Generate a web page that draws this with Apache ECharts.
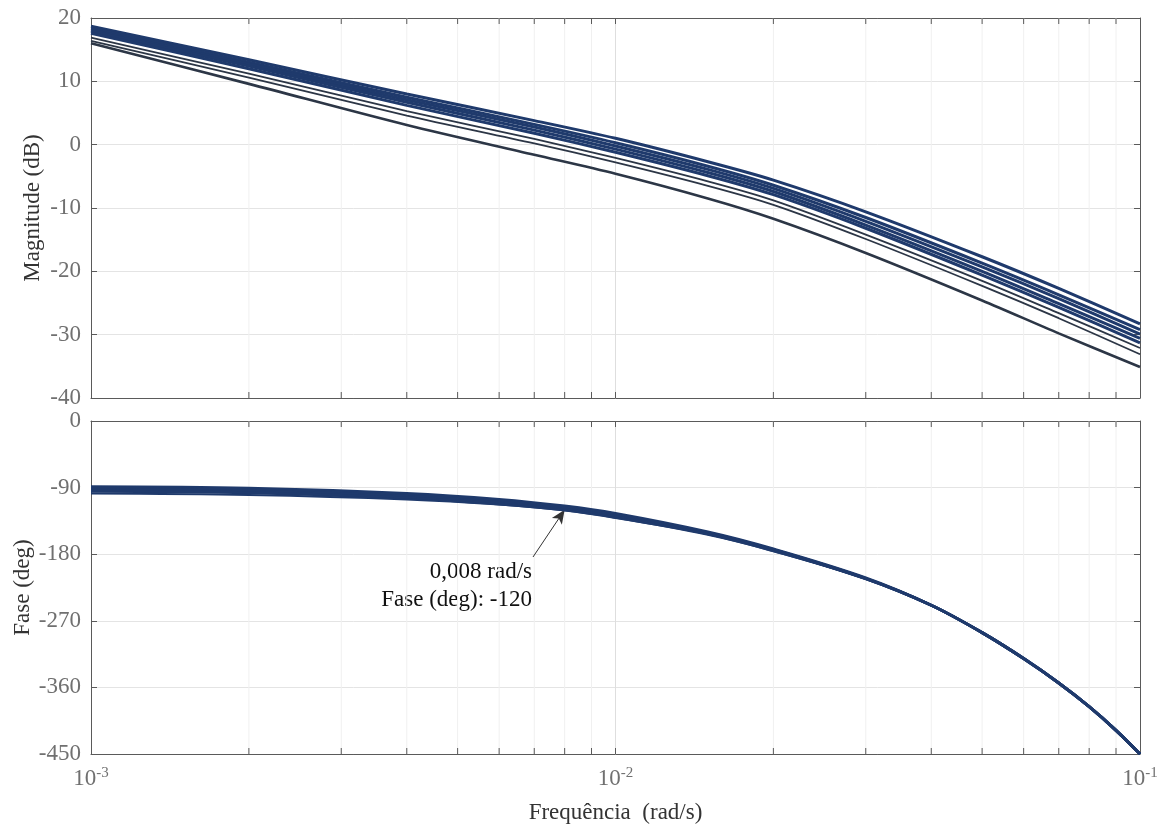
<!DOCTYPE html>
<html>
<head>
<meta charset="utf-8">
<script src="https://cdn.jsdelivr.net/npm/echarts@6/dist/echarts.min.js"></script>
<style>html,body{margin:0;padding:0;background:#fff}#c{width:1162px;height:828px}</style>
</head>
<body>
<div id="c"></div>
<script>
// ---- data ----
const freqMag = [0.001, 0.002, 0.004, 0.007, 0.01, 0.015, 0.02, 0.03, 0.05, 0.07, 0.1];
const magA = [18.7, 13.4, 8.0, 3.8, 1.0, -2.7, -5.6, -10.6, -17.7, -22.7, -28.3];
const magB = [18.4, 13.0, 7.5, 3.2, 0.3, -3.4, -6.4, -11.5, -18.7, -23.7, -29.2];
const magC = [18.1, 12.7, 7.1, 2.8, -0.2, -3.9, -6.9, -12.1, -19.3, -24.3, -29.9];
const magD = [17.9, 12.4, 6.7, 2.3, -0.7, -4.4, -7.4, -12.7, -20.0, -25.1, -30.6];
const magE = [17.6, 12.0, 6.2, 1.8, -1.2, -4.9, -7.9, -13.2, -20.6, -25.7, -31.3];
const magF = [16.9, 11.2, 5.3, 0.9, -2.1, -5.8, -8.8, -14.2, -21.5, -26.6, -32.1];
const magG = [16.4, 10.6, 4.6, 0.2, -2.8, -6.5, -9.5, -14.9, -22.3, -27.4, -33.1];
const magH = [16.0, 9.6, 3.1, -1.6, -4.6, -8.5, -11.7, -17.1, -24.6, -29.8, -35.1];

const freqPh = [0.001, 0.002, 0.004, 0.006, 0.008, 0.01, 0.015, 0.02, 0.03, 0.04, 0.05, 0.06, 0.07, 0.08, 0.09, 0.1];
const ph1 = [-89, -91, -98, -106, -115, -125, -150, -173, -212, -249, -286, -321, -354, -386, -418, -450];
const ph2 = [-91, -93, -100, -108, -117, -127, -151, -174, -213, -249, -286, -321, -354, -386, -418, -450];
const ph3 = [-93, -95, -102, -110, -119, -129, -152, -174, -213, -249, -286, -321, -354, -386, -418, -450];
const ph4 = [-95, -97, -104, -112, -120, -130, -153, -175, -213, -249, -286, -321, -354, -386, -418, -450];
const ph5 = [-98, -100, -106, -113, -121, -131, -153, -176, -213, -249, -286, -321, -354, -386, -418, -450];

const minorFreqs = [0.002,0.003,0.004,0.005,0.006,0.007,0.008,0.009,0.02,0.03,0.04,0.05,0.06,0.07,0.08,0.09];
const magRange = [-40, 20];
const phRange = [-450, 0];
const annotFreq = 0.008, annotPhase = -120;
const annotLines = ['0,008 rad/s', 'Fase (deg): -120'];
const xTitle = 'Frequência  (rad/s)';
const magTitle = 'Magnitude (dB)';
const phTitle = 'Fase (deg)';

// ---- styling ----
const FONT = "'Liberation Serif','Times New Roman',serif";
const NAVY = '#1f3a6c';
const DARK = '#2c3646';
const AX = '#5a5a5a';
const LBL = '#707070';

const pairs = (xs, ys) => xs.map((x, i) => [x, ys[i]]);

function magSeries(name, ys, w, c) {
  return {name, type:'line', xAxisIndex:0, yAxisIndex:0, data:pairs(freqMag, ys), smooth:0.3,
    symbol:'none', lineStyle:{width:w, color:c}, z:5, silent:true};
}
function phSeries(name, ys, w, c, extra) {
  return Object.assign({name, type:'line', xAxisIndex:2, yAxisIndex:2, data:pairs(freqPh, ys), smooth:0.35,
    symbol:'none', lineStyle:{width:w, color:c}, z:5, silent:true}, extra || {});
}
function minorSeries(xi, yi, range) {
  return {type:'custom', xAxisIndex:xi, yAxisIndex:yi, silent:true, z:1,
    data: minorFreqs.map(f => [f, range[0]]),
    renderItem: function (params, api) {
      const f = api.value(0);
      const p0 = api.coord([f, range[0]]);
      const p1 = api.coord([f, range[1]]);
      return {type:'group', children:[
        {type:'line', shape:{x1:p0[0], y1:p0[1], x2:p1[0], y2:p1[1]}, style:{stroke:'#f0f0f0', lineWidth:1}},
        {type:'line', shape:{x1:p0[0], y1:p0[1], x2:p0[0], y2:p0[1]-6}, style:{stroke:AX, lineWidth:1}},
        {type:'line', shape:{x1:p1[0], y1:p1[1], x2:p1[0], y2:p1[1]+6}, style:{stroke:AX, lineWidth:1}}
      ]};
    }};
}

function xAx(gi, pos, labels) {
  const a = {gridIndex:gi, type:'log', logBase:10, min:0.001, max:0.1, position:pos,
    axisLine:{show:true, onZero:false, lineStyle:{color:AX, width:1}},
    axisTick:{show:true, inside:true, length:6, lineStyle:{color:AX}},
    axisLabel:{show:false},
    splitLine:{show:pos==='bottom', lineStyle:{color:'#dedede', width:1}}};
  if (labels) {
    a.axisLabel = {show:true, margin:12, formatter: v => '{b|10}{s|' + Math.round(Math.log10(v)) + '}',
      rich:{b:{fontFamily:FONT, fontSize:23, color:LBL, lineHeight:26},
            s:{fontFamily:FONT, fontSize:15, color:LBL, verticalAlign:'top', lineHeight:14}}};
    a.name = xTitle; a.nameLocation = 'middle'; a.nameGap = 47; a.nameMoveOverlap = false;
    a.nameTextStyle = {fontFamily:FONT, fontSize:23, color:'#333'};
  }
  return a;
}
function yAx(gi, pos, range, interval, title, gap) {
  const a = {gridIndex:gi, type:'value', min:range[0], max:range[1], interval, position:pos,
    axisLine:{show:true, onZero:false, lineStyle:{color:AX, width:1}},
    axisTick:{show:true, inside:true, length:6, lineStyle:{color:AX}},
    axisLabel:{show:pos==='left', fontFamily:FONT, fontSize:23, color:LBL, margin:10},
    splitLine:{show:pos==='left', lineStyle:{color:'#e4e4e4', width:1}}};
  if (title) {
    a.name = title; a.nameLocation = 'middle'; a.nameGap = gap; a.nameRotate = 90; a.nameMoveOverlap = false;
    a.nameTextStyle = {fontFamily:FONT, fontSize:23, color:'#333'};
  }
  return a;
}

const chart = echarts.init(document.getElementById('c'), null, {renderer:'canvas'});
chart.setOption({
  animation:false,
  backgroundColor:'#fff',
  grid:[{left:91, top:18, width:1049, height:380, outerBoundsMode:'none', containLabel:false},
        {left:91, top:421, width:1049, height:333, outerBoundsMode:'none', containLabel:false}],
  xAxis:[xAx(0,'bottom',false), xAx(0,'top',false), xAx(1,'bottom',true), xAx(1,'top',false)],
  yAxis:[yAx(0,'left',magRange,10,magTitle,47), yAx(0,'right',magRange,10), yAx(1,'left',phRange,90,phTitle,57), yAx(1,'right',phRange,90)],
  series:[
    minorSeries(0,0,magRange), minorSeries(2,2,phRange),
    magSeries('A', magA, 3, NAVY), magSeries('B', magB, 3, NAVY), magSeries('C', magC, 3, NAVY),
    magSeries('D', magD, 3, NAVY), magSeries('E', magE, 3, NAVY),
    magSeries('F', magF, 1.8, DARK), magSeries('G', magG, 1.8, DARK), magSeries('H', magH, 2.6, DARK),
    phSeries('P1', ph1, 3, NAVY), phSeries('P2', ph2, 3, NAVY), phSeries('P3', ph3, 3, NAVY),
    phSeries('P4', ph4, 3, NAVY),
    phSeries('P5', ph5, 2, NAVY, {markLine:{silent:true, animation:false, symbol:['none','arrow'], symbolSize:[9,14],
      label:{show:false}, lineStyle:{color:'#333', width:1, type:'solid'},
      data:[[{x:533, y:557}, {coord:[annotFreq, annotPhase]}]]}})
  ],
  graphic:[
    {type:'text', x:532, y:572, style:{text:annotLines[0], font:'23px ' + FONT, fill:'#111', align:'right', verticalAlign:'middle'}},
    {type:'text', x:532, y:600, style:{text:annotLines[1], font:'23px ' + FONT, fill:'#111', align:'right', verticalAlign:'middle'}}
  ]
});
</script>
</body>
</html>
